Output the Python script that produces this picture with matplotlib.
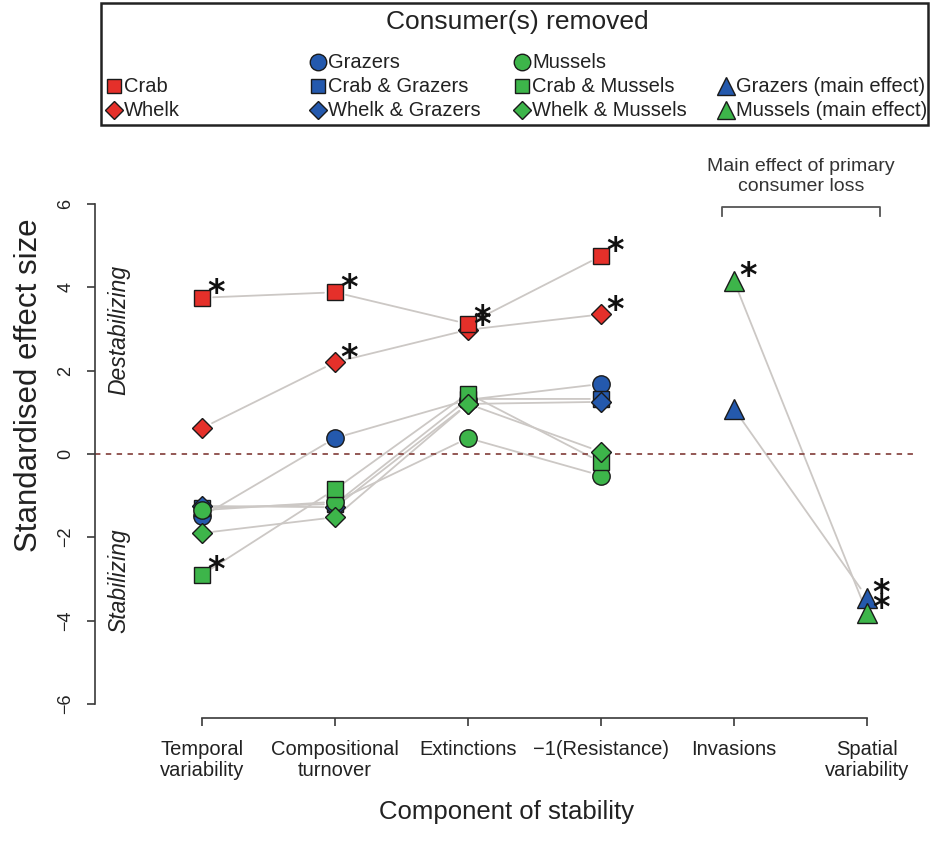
import matplotlib
matplotlib.use('Agg')
import matplotlib.pyplot as plt
from matplotlib.patches import Rectangle

plt.rcParams['font.family'] = ['Liberation Sans', 'DejaVu Sans']

# ---------------- data ----------------
categories = ['Temporal\nvariability', 'Compositional\nturnover', 'Extinctions',
              '\u22121(Resistance)', 'Invasions', 'Spatial\nvariability']
x_first = [1, 2, 3, 4]          # interaction components
x_main = [5, 6]                 # main-effect components

crab = [3.75, 3.88, 3.12, 4.75]
crab_sig = [True, True, True, True]
whelk = [0.62, 2.20, 2.98, 3.35]
whelk_sig = [False, True, True, True]
grazers = [-1.50, 0.38, 1.30, 1.68]
crab_grazers = [-1.30, -1.20, 1.32, 1.32]
whelk_grazers = [-1.25, -1.28, 1.20, 1.25]
mussels = [-1.35, -1.15, 0.38, -0.52]
crab_mussels = [-2.90, -0.85, 1.45, -0.20]
crab_mussels_sig = [True, False, False, False]
whelk_mussels = [-1.90, -1.52, 1.20, 0.05]
grazers_main = [1.08, -3.45]
grazers_main_sig = [False, True]
mussels_main = [4.15, -3.82]
mussels_main_sig = [True, True]

yticks = [-6, -4, -2, 0, 2, 4, 6]

RED = '#E5302A'
BLUE = '#2459AD'
GREEN = '#3DB54A'
LINEC = '#ccc8c5'

none4 = [False] * 4
series = [
    ('Grazers', x_first, grazers, none4, 'o', BLUE, 12.5),
    ('Crab & Grazers', x_first, crab_grazers, none4, 's', BLUE, 11),
    ('Whelk & Grazers', x_first, whelk_grazers, none4, 'D', BLUE, 10),
    ('Mussels', x_first, mussels, none4, 'o', GREEN, 12.5),
    ('Crab & Mussels', x_first, crab_mussels, crab_mussels_sig, 's', GREEN, 11),
    ('Whelk & Mussels', x_first, whelk_mussels, none4, 'D', GREEN, 10),
    ('Whelk', x_first, whelk, whelk_sig, 'D', RED, 10),
    ('Crab', x_first, crab, crab_sig, 's', RED, 11),
    ('Grazers (main effect)', x_main, grazers_main, grazers_main_sig, '^', BLUE, 14),
    ('Mussels (main effect)', x_main, mussels_main, mussels_main_sig, '^', GREEN, 14),
]

W, H = 930, 841
fig = plt.figure(figsize=(W / 100, H / 100), dpi=100)
ax = fig.add_axes([95 / W, (H - 718) / H, 823 / W, 524 / H])
ax.set_xlim(0.195, 6.383)
ax.set_ylim(-6.34, 6.24)

# connecting lines with gaps around the points (like R type="b")
for name, xs, ys, sig, mk, col, ms in series:
    for i in range(len(xs) - 1):
        ax.annotate('', xy=(xs[i + 1], ys[i + 1]), xytext=(xs[i], ys[i]),
                    arrowprops=dict(arrowstyle='-', color=LINEC, lw=1.3,
                                    shrinkA=8, shrinkB=8), zorder=1)

ax.axhline(0, color='#8a4a46', lw=1.3, linestyle=(0, (3, 3)), zorder=2)

for name, xs, ys, sig, mk, col, ms in series:
    ax.plot(xs, ys, linestyle='none', marker=mk, ms=ms, mfc=col, mec='#1a1a1a',
            mew=1.0, zorder=3)
    for xv, yv, s in zip(xs, ys, sig):
        if s:
            ax.annotate('*', xy=(xv, yv), xytext=(10, 3), textcoords='offset points',
                        ha='center', va='center', fontsize=24, fontweight='bold',
                        color='#111111', zorder=4, family='DejaVu Sans')

# axes styling (R-like detached axes)
for s in ['top', 'right']:
    ax.spines[s].set_visible(False)
ax.spines['left'].set_bounds(-6, 6)
ax.spines['bottom'].set_bounds(1, 6)
for s in ['left', 'bottom']:
    ax.spines[s].set_color('#3a3a3a')
    ax.spines[s].set_linewidth(1.2)
ax.set_yticks(yticks)
ax.set_yticklabels([str(v).replace('-', '\u2212') for v in yticks], rotation=90,
                   va='center', fontsize=13, color='#222222')
ax.set_xticks(range(1, 7))
ax.set_xticklabels(categories, fontsize=14.5, color='#222222', linespacing=1.15)
ax.tick_params(axis='both', direction='out', length=6, width=1.2, colors='#3a3a3a',
               labelcolor='#222222')
ax.tick_params(axis='x', pad=10)
ax.tick_params(axis='y', pad=9)

ax.set_xlabel('Component of stability', fontsize=18.5, color='#222222', labelpad=14)
ax.set_ylabel('Standardised effect size', fontsize=22.5, color='#222222')
ax.yaxis.set_label_coords(-0.062, 0.635)

ax.text(0.029, 0.74, 'Destabilizing', transform=ax.transAxes, rotation=90,
        style='italic', fontsize=16.5, ha='center', va='center', color='#222222')
ax.text(0.029, 0.263, 'Stabilizing', transform=ax.transAxes, rotation=90,
        style='italic', fontsize=16.5, ha='center', va='center', color='#222222')

# bracket for main effects
ax.plot([4.91, 4.91, 6.10, 6.10], [5.70, 5.93, 5.93, 5.70], color='#555555', lw=1.3,
        clip_on=False)
ax.text(5.505, 6.66, 'Main effect of primary\nconsumer loss', ha='center', va='center',
        fontsize=14, color='#333333', linespacing=1.2, clip_on=False)

# ---------------- legend (R-style equal columns) ----------------
lax = fig.add_axes([0, 0, 1, 1], facecolor='none')
lax.set_xlim(0, W)
lax.set_ylim(H, 0)
lax.axis('off')
lax.add_patch(Rectangle((101, 3), 827, 122, fill=False, ec='#222222', lw=1.8))
lax.text(517, 22, 'Consumer(s) removed', ha='center', va='center', fontsize=19,
         color='#222222')
legend_slots = {
    'Crab': (0, 1), 'Whelk': (0, 2),
    'Grazers': (1, 0), 'Crab & Grazers': (1, 1), 'Whelk & Grazers': (1, 2),
    'Mussels': (2, 0), 'Crab & Mussels': (2, 1), 'Whelk & Mussels': (2, 2),
    'Grazers (main effect)': (3, 1), 'Mussels (main effect)': (3, 2),
}
col_x0, col_w = 114, 204
row_y0, row_h = 62, 24
for name, xs, ys, sig, mk, col, ms in series:
    c, r = legend_slots[name]
    mx = col_x0 + c * col_w
    my = row_y0 + r * row_h
    lax.plot([mx], [my], linestyle='none', marker=mk, ms=ms * 0.95, mfc=col,
             mec='#1a1a1a', mew=1.0)
    lax.text(mx + 10, my, name, ha='left', va='center', fontsize=14.5, color='#222222')

fig.savefig('out.png', dpi=100)
